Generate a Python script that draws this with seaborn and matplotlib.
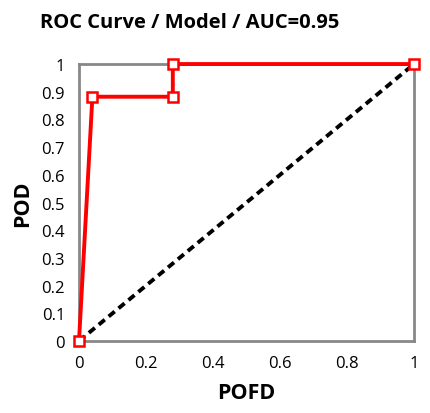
import matplotlib
matplotlib.use("Agg")
import matplotlib.pyplot as plt
import seaborn as sns
import pandas as pd

# ROC points
pofd = [0.0, 0.04, 0.28, 0.28, 1.0]
pod = [0.0, 0.882, 0.882, 1.0, 1.0]
ref_x = [0.0, 1.0]
ref_y = [0.0, 1.0]

sns.set_style("white")
plt.rcParams['font.family'] = ['Open Sans', 'DejaVu Sans']
plt.rcParams['text.color'] = 'black'
plt.rcParams['axes.labelcolor'] = 'black'

df = pd.DataFrame({'POFD': pofd, 'POD': pod})
fig = plt.figure(figsize=(4.31, 4.14), dpi=100)
ax = fig.add_axes([0.1833, 0.1739, 0.7773, 0.669])

ax.plot(ref_x, ref_y, color='black', linestyle=(0, (2.0, 1.3)), linewidth=2.8, zorder=2)
sns.lineplot(data=df, x='POFD', y='POD', sort=False, estimator=None, color='red',
             linewidth=2.8, marker='s', markersize=7, markerfacecolor='white',
             markeredgecolor='red', markeredgewidth=1.8, ax=ax, zorder=3, clip_on=False)

ax.set_xlim(0, 1)
ax.set_ylim(0, 1)
ax.set_xticks([0, 0.2, 0.4, 0.6, 0.8, 1])
ax.set_xticklabels(['0', '0.2', '0.4', '0.6', '0.8', '1'])
ax.set_yticks([i / 10 for i in range(11)])
ax.set_yticklabels(['0', '0.1', '0.2', '0.3', '0.4', '0.5', '0.6', '0.7', '0.8', '0.9', '1'])
ax.tick_params(axis='both', direction='inout', length=8, width=2, color='#888888',
               labelsize=12, labelcolor='black', pad=6)
for s in ax.spines.values():
    s.set_color('#888888')
    s.set_linewidth(2)

ax.set_xlabel('POFD', fontsize=15.5, fontweight='bold', labelpad=8)
ax.set_ylabel('POD', fontsize=15.5, fontweight='bold', labelpad=6)
fig.text(0.44, 0.945, 'ROC Curve / Model / AUC=0.95', ha='center', va='center',
         fontsize=14.5, fontweight='bold')

fig.savefig('out.png', dpi=100)
